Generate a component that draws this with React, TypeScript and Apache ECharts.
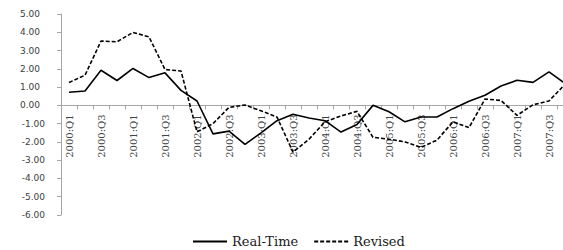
import React, { useEffect, useRef } from "react";
import * as echarts from "echarts";

const categories = [
  "2000:Q1", "2000:Q2", "2000:Q3", "2000:Q4",
  "2001:Q1", "2001:Q2", "2001:Q3", "2001:Q4",
  "2002:Q1", "2002:Q2", "2002:Q3", "2002:Q4",
  "2003:Q1", "2003:Q2", "2003:Q3", "2003:Q4",
  "2004:Q1", "2004:Q2", "2004:Q3", "2004:Q4",
  "2005:Q1", "2005:Q2", "2005:Q3", "2005:Q4",
  "2006:Q1", "2006:Q2", "2006:Q3", "2006:Q4",
  "2007:Q1", "2007:Q2", "2007:Q3", "2007:Q4",
];

const realTime = [
  0.72, 0.79, 1.92, 1.36, 2.02, 1.52, 1.78, 0.82,
  0.24, -1.56, -1.41, -2.14, -1.5, -0.84, -0.49, -0.69,
  -0.84, -1.46, -1.05, 0.0, -0.35, -0.9, -0.64, -0.64,
  -0.18, 0.23, 0.55, 1.06, 1.37, 1.26, 1.83, 1.2,
];

const revised = [
  1.25, 1.65, 3.52, 3.48, 3.99, 3.75, 1.96, 1.88,
  -1.45, -1.0, -0.11, 0.02, -0.3, -0.64, -2.56, -1.85,
  -0.9, -0.58, -0.33, -1.75, -1.85, -2.0, -2.3, -1.9,
  -0.9, -1.22, 0.35, 0.27, -0.55, 0.03, 0.24, 1.15,
];

const seriesNames = ["Real-Time", "Revised"];

const Y_MIN = -6;
const Y_MAX = 5;

export default function App() {
  const ref = useRef<HTMLDivElement>(null);

  useEffect(() => {
    if (!ref.current) return;
    const chart = echarts.init(ref.current, null, { renderer: "svg" });
    const axisGray = "#a6a6a6";
    const gridTop = 14;
    const gridHeight = 201;
    // distance from grid bottom up to the zero line
    const zeroOffset = (gridHeight * (0 - Y_MIN)) / (Y_MAX - Y_MIN);
    chart.setOption({
      animation: false,
      backgroundColor: "#ffffff",
      grid: {
        left: 61,
        top: gridTop,
        width: 512,
        height: gridHeight,
        containLabel: false,
        outerBoundsMode: "none",
      },
      legend: {
        left: 187,
        top: 230,
        itemWidth: 34,
        itemHeight: 14,
        itemGap: 15,
        data: seriesNames,
        itemStyle: { opacity: 0 },
        textStyle: { fontFamily: "DejaVu Serif", fontSize: 13, color: "#1a1a1a" },
      },
      xAxis: {
        type: "category",
        data: categories,
        boundaryGap: true,
        position: "bottom",
        offset: -zeroOffset,
        axisLine: { onZero: false, lineStyle: { color: axisGray, width: 1 } },
        axisTick: { show: true, interval: 0, length: 4, lineStyle: { color: axisGray } },
        axisLabel: {
          rotate: 90,
          interval: 1,
          margin: 9,
          fontFamily: "DejaVu Serif",
          fontSize: 10,
          color: "#404040",
        },
        splitLine: { show: false },
      },
      yAxis: {
        type: "value",
        min: Y_MIN,
        max: Y_MAX,
        interval: 1,
        axisLine: { show: true, lineStyle: { color: axisGray, width: 1 } },
        axisTick: { show: true, length: 4, lineStyle: { color: axisGray } },
        splitLine: { show: false },
        axisLabel: {
          margin: 16,
          fontFamily: "DejaVu Sans",
          fontSize: 9,
          color: "#404040",
          formatter: (v: number) =>
            v >= 0 ? `{p|${v.toFixed(2)}}` : `{n|${v.toFixed(2)}}`,
          rich: {
            p: { fontFamily: "DejaVu Sans", fontSize: 9, color: "#404040", padding: [0, 5, 0, 0] },
            n: { fontFamily: "DejaVu Sans", fontSize: 9, color: "#404040" },
          },
        },
      },
      series: [
        {
          name: seriesNames[0],
          type: "line",
          data: realTime,
          symbol: "none",
          itemStyle: { color: "#000000" },
          lineStyle: { color: "#000000", width: 1.6, type: "solid" },
        },
        {
          name: seriesNames[1],
          type: "line",
          data: revised,
          symbol: "none",
          itemStyle: { color: "#000000" },
          lineStyle: { color: "#000000", width: 1.6, type: [4, 2] },
        },
      ],
    });
    return () => chart.dispose();
  }, []);

  return (
    <div
      ref={ref}
      style={{ position: "absolute", left: 0, top: 0, width: 563, height: 250 }}
    />
  );
}
